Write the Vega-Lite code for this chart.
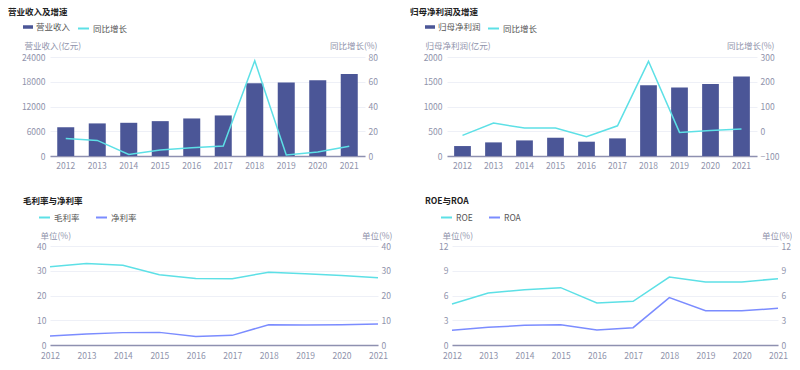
{
  "$schema": "https://vega.github.io/schema/vega-lite/v6.json",
  "padding": {"left": 8, "top": 7, "right": 0, "bottom": 0},
  "config": {
    "font": "Noto Sans CJK SC",
    "view": {"stroke": null},
    "axis": {"labelFontSize": 8.5, "labelColor": "#8f93ab", "titleFontSize": 8.5, "titleFontWeight": "normal", "titleColor": "#8f93ab", "ticks": false, "domain": false, "gridColor": "#eef0f7", "labelPadding": 4, "format": "d"},
    "legend": {"labelFontSize": 8.5, "labelColor": "#555", "padding": 0, "labelOffset": 3, "columnPadding": 12, "title": null},
    "title": {"fontSize": 8.5, "fontWeight": "bold", "color": "#222", "anchor": "start", "frame": "group", "offset": 6}
  },
  "datasets": {
    "fin": [
      {"year": "2012", "revenue": 7000, "rev_growth": 14.2, "profit": 201, "profit_growth": -16.8},
      {"year": "2013", "revenue": 7900, "rev_growth": 12.6, "profit": 275, "profit_growth": 32.9},
      {"year": "2014", "revenue": 8050, "rev_growth": 1.3, "profit": 315, "profit_growth": 12.8},
      {"year": "2015", "revenue": 8450, "rev_growth": 4.8, "profit": 369, "profit_growth": 12.8},
      {"year": "2016", "revenue": 9100, "rev_growth": 6.7, "profit": 289, "profit_growth": -22.1},
      {"year": "2017", "revenue": 9830, "rev_growth": 8.1, "profit": 356, "profit_growth": 22.1},
      {"year": "2018", "revenue": 17640, "rev_growth": 77.0, "profit": 1430, "profit_growth": 282.6},
      {"year": "2019", "revenue": 17800, "rev_growth": 0.8, "profit": 1383, "profit_growth": -4.7},
      {"year": "2020", "revenue": 18360, "rev_growth": 3.2, "profit": 1456, "profit_growth": 3.4},
      {"year": "2021", "revenue": 19890, "rev_growth": 7.8, "profit": 1604, "profit_growth": 8.7}
    ],
    "margin": [
      {"year": "2012", "series": "毛利率", "value": 31.6},
      {"year": "2013", "series": "毛利率", "value": 32.9},
      {"year": "2014", "series": "毛利率", "value": 32.2},
      {"year": "2015", "series": "毛利率", "value": 28.4},
      {"year": "2016", "series": "毛利率", "value": 26.9},
      {"year": "2017", "series": "毛利率", "value": 26.8},
      {"year": "2018", "series": "毛利率", "value": 29.4},
      {"year": "2019", "series": "毛利率", "value": 28.8},
      {"year": "2020", "series": "毛利率", "value": 28.1},
      {"year": "2021", "series": "毛利率", "value": 27.2},
      {"year": "2012", "series": "净利率", "value": 3.6},
      {"year": "2013", "series": "净利率", "value": 4.4},
      {"year": "2014", "series": "净利率", "value": 5.0},
      {"year": "2015", "series": "净利率", "value": 5.1},
      {"year": "2016", "series": "净利率", "value": 3.4},
      {"year": "2017", "series": "净利率", "value": 3.9},
      {"year": "2018", "series": "净利率", "value": 8.2},
      {"year": "2019", "series": "净利率", "value": 8.1},
      {"year": "2020", "series": "净利率", "value": 8.2},
      {"year": "2021", "series": "净利率", "value": 8.5}
    ],
    "ret": [
      {"year": "2012", "series": "ROE", "value": 4.97},
      {"year": "2013", "series": "ROE", "value": 6.3},
      {"year": "2014", "series": "ROE", "value": 6.7},
      {"year": "2015", "series": "ROE", "value": 6.95},
      {"year": "2016", "series": "ROE", "value": 5.1},
      {"year": "2017", "series": "ROE", "value": 5.3},
      {"year": "2018", "series": "ROE", "value": 8.24},
      {"year": "2019", "series": "ROE", "value": 7.64},
      {"year": "2020", "series": "ROE", "value": 7.64},
      {"year": "2021", "series": "ROE", "value": 8.04},
      {"year": "2012", "series": "ROA", "value": 1.78},
      {"year": "2013", "series": "ROA", "value": 2.14},
      {"year": "2014", "series": "ROA", "value": 2.38},
      {"year": "2015", "series": "ROA", "value": 2.46},
      {"year": "2016", "series": "ROA", "value": 1.82},
      {"year": "2017", "series": "ROA", "value": 2.1},
      {"year": "2018", "series": "ROA", "value": 5.74},
      {"year": "2019", "series": "ROA", "value": 4.16},
      {"year": "2020", "series": "ROA", "value": 4.16},
      {"year": "2021", "series": "ROA", "value": 4.44}
    ]
  },
  "spacing": 26,
  "resolve": {"scale": {"color": "independent", "fill": "independent", "stroke": "independent"}, "legend": {"color": "independent", "fill": "independent", "stroke": "independent"}},
  "vconcat": [
    {
      "resolve": {"scale": {"color": "independent", "fill": "independent", "stroke": "independent"}, "legend": {"color": "independent", "fill": "independent", "stroke": "independent"}},
      "hconcat": [
        {
          "title": {"text": "营业收入及增速", "dx": -42},
          "width": 315, "height": 99,
          "data": {"name": "fin"},
          "encoding": {
            "x": {"field": "year", "type": "ordinal", "scale": {"paddingInner": 0.46, "paddingOuter": 0.23},
                  "axis": {"title": null, "labelAngle": 0, "domain": true, "domainColor": "#8e90b0", "domainWidth": 1.5, "labelPadding": 5}}
          },
          "layer": [
            {
              "mark": {"type": "bar", "color": "#4b5697"},
              "encoding": {
                "y": {"field": "revenue", "type": "quantitative", "scale": {"domain": [0, 24000]},
                      "axis": {"title": "营业收入(亿元)", "values": [0, 6000, 12000, 18000, 24000], "titleAngle": 0, "titleX": -26, "titleY": -12, "titleAlign": "left", "titleBaseline": "middle", "labelPadding": 5}},
                "fill": {"datum": "营业收入", "scale": {"range": ["#4b5697"]},
                         "legend": {"orient": "none", "legendX": -27, "legendY": -35, "symbolType": "M-1,-0.35L1,-0.35L1,0.35L-1,0.35Z", "symbolSize": 100, "symbolStrokeWidth": 0}}
              }
            },
            {
              "mark": {"type": "line", "strokeWidth": 1.5},
              "encoding": {
                "y": {"field": "rev_growth", "type": "quantitative", "scale": {"domain": [0, 80]},
                      "axis": {"orient": "right", "title": "同比增长(%)", "values": [0, 20, 40, 60, 80], "grid": false, "titleAngle": 0, "titleX": 12, "titleY": -12, "titleAlign": "right", "titleBaseline": "middle", "labelPadding": 3}},
                "stroke": {"datum": "同比增长", "scale": {"range": ["#5de0e6"]},
                           "legend": {"orient": "none", "legendX": 27, "legendY": -35, "symbolType": "stroke", "symbolSize": 121, "symbolStrokeWidth": 2}}
              }
            }
          ],
          "resolve": {"scale": {"y": "independent"}}
        },
        {
          "title": {"text": "归母净利润及增速", "dx": -37},
          "width": 310, "height": 99,
          "data": {"name": "fin"},
          "encoding": {
            "x": {"field": "year", "type": "ordinal", "scale": {"paddingInner": 0.46, "paddingOuter": 0.23},
                  "axis": {"title": null, "labelAngle": 0, "domain": true, "domainColor": "#8e90b0", "domainWidth": 1.5, "labelPadding": 5}}
          },
          "layer": [
            {
              "mark": {"type": "bar", "color": "#4b5697"},
              "encoding": {
                "y": {"field": "profit", "type": "quantitative", "scale": {"domain": [0, 2000]},
                      "axis": {"title": "归母净利润(亿元)", "values": [0, 500, 1000, 1500, 2000], "titleAngle": 0, "titleX": -22, "titleY": -12, "titleAlign": "left", "titleBaseline": "middle", "labelPadding": 5}},
                "fill": {"datum": "归母净利润", "scale": {"range": ["#4b5697"]},
                         "legend": {"orient": "none", "legendX": -22, "legendY": -35, "symbolType": "M-1,-0.35L1,-0.35L1,0.35L-1,0.35Z", "symbolSize": 100, "symbolStrokeWidth": 0}}
              }
            },
            {
              "mark": {"type": "line", "strokeWidth": 1.5},
              "encoding": {
                "y": {"field": "profit_growth", "type": "quantitative", "scale": {"domain": [-100, 300]},
                      "axis": {"orient": "right", "title": "同比增长(%)", "values": [-100, 0, 100, 200, 300], "grid": false, "titleAngle": 0, "titleX": 17, "titleY": -12, "titleAlign": "right", "titleBaseline": "middle", "labelPadding": 3}},
                "stroke": {"datum": "同比增长", "scale": {"range": ["#5de0e6"]},
                           "legend": {"orient": "none", "legendX": 40, "legendY": -35, "symbolType": "stroke", "symbolSize": 121, "symbolStrokeWidth": 2}}
              }
            }
          ],
          "resolve": {"scale": {"y": "independent"}}
        }
      ],
      "spacing": 82,
      "bounds": "flush"
    },
    {
      "resolve": {"scale": {"color": "independent", "fill": "independent", "stroke": "independent"}, "legend": {"color": "independent", "fill": "independent", "stroke": "independent"}},
      "hconcat": [
        {
          "title": {"text": "毛利率与净利率", "dx": -27},
          "width": 328, "height": 99,
          "data": {"name": "margin"},
          "encoding": {
            "x": {"field": "year", "type": "ordinal", "scale": {"type": "point", "padding": 0},
                  "axis": {"title": null, "labelAngle": 0, "domain": true, "domainColor": "#8e90b0", "domainWidth": 1.5, "labelPadding": 6}}
          },
          "layer": [
            {
              "mark": {"type": "line", "strokeWidth": 1.5},
              "encoding": {
                "y": {"field": "value", "type": "quantitative", "scale": {"domain": [0, 40]},
                      "axis": {"title": "单位(%)", "values": [0, 10, 20, 30, 40], "titleAngle": 0, "titleX": -10, "titleY": -11, "titleAlign": "left", "titleBaseline": "middle"}},
                "color": {"field": "series", "type": "nominal", "scale": {"domain": ["毛利率", "净利率"], "range": ["#5de0e6", "#7b8cff"]},
                          "legend": {"orient": "none", "direction": "horizontal", "legendX": -12, "legendY": -35, "symbolType": "stroke", "symbolSize": 121, "symbolStrokeWidth": 2}}
              }
            },
            {
              "mark": {"type": "line", "opacity": 0},
              "encoding": {
                "detail": {"field": "series"},
                "y": {"field": "value", "type": "quantitative", "scale": {"domain": [0, 40]},
                      "axis": {"orient": "right", "title": "单位(%)", "values": [0, 10, 20, 30, 40], "grid": false, "titleAngle": 0, "titleX": 14, "titleY": -11, "titleAlign": "right", "titleBaseline": "middle", "labelPadding": 3}}
              }
            }
          ],
          "resolve": {"scale": {"y": "independent"}}
        },
        {
          "title": {"text": "ROE与ROA", "dx": -27},
          "width": 326, "height": 99,
          "data": {"name": "ret"},
          "encoding": {
            "x": {"field": "year", "type": "ordinal", "scale": {"type": "point", "padding": 0},
                  "axis": {"title": null, "labelAngle": 0, "domain": true, "domainColor": "#8e90b0", "domainWidth": 1.5, "labelPadding": 6}}
          },
          "layer": [
            {
              "mark": {"type": "line", "strokeWidth": 1.5},
              "encoding": {
                "y": {"field": "value", "type": "quantitative", "scale": {"domain": [0, 12]},
                      "axis": {"title": "单位(%)", "values": [0, 3, 6, 9, 12], "titleAngle": 0, "titleX": -10, "titleY": -11, "titleAlign": "left", "titleBaseline": "middle"}},
                "color": {"field": "series", "type": "nominal", "scale": {"domain": ["ROE", "ROA"], "range": ["#5de0e6", "#7b8cff"]},
                          "legend": {"orient": "none", "direction": "horizontal", "legendX": -12, "legendY": -35, "symbolType": "stroke", "symbolSize": 121, "symbolStrokeWidth": 2}}
              }
            },
            {
              "mark": {"type": "line", "opacity": 0},
              "encoding": {
                "detail": {"field": "series"},
                "y": {"field": "value", "type": "quantitative", "scale": {"domain": [0, 12]},
                      "axis": {"orient": "right", "title": "单位(%)", "values": [0, 3, 6, 9, 12], "grid": false, "titleAngle": 0, "titleX": 14, "titleY": -11, "titleAlign": "right", "titleBaseline": "middle", "labelPadding": 3}}
              }
            }
          ],
          "resolve": {"scale": {"y": "independent"}}
        }
      ],
      "spacing": 74,
      "bounds": "flush"
    }
  ]
}
